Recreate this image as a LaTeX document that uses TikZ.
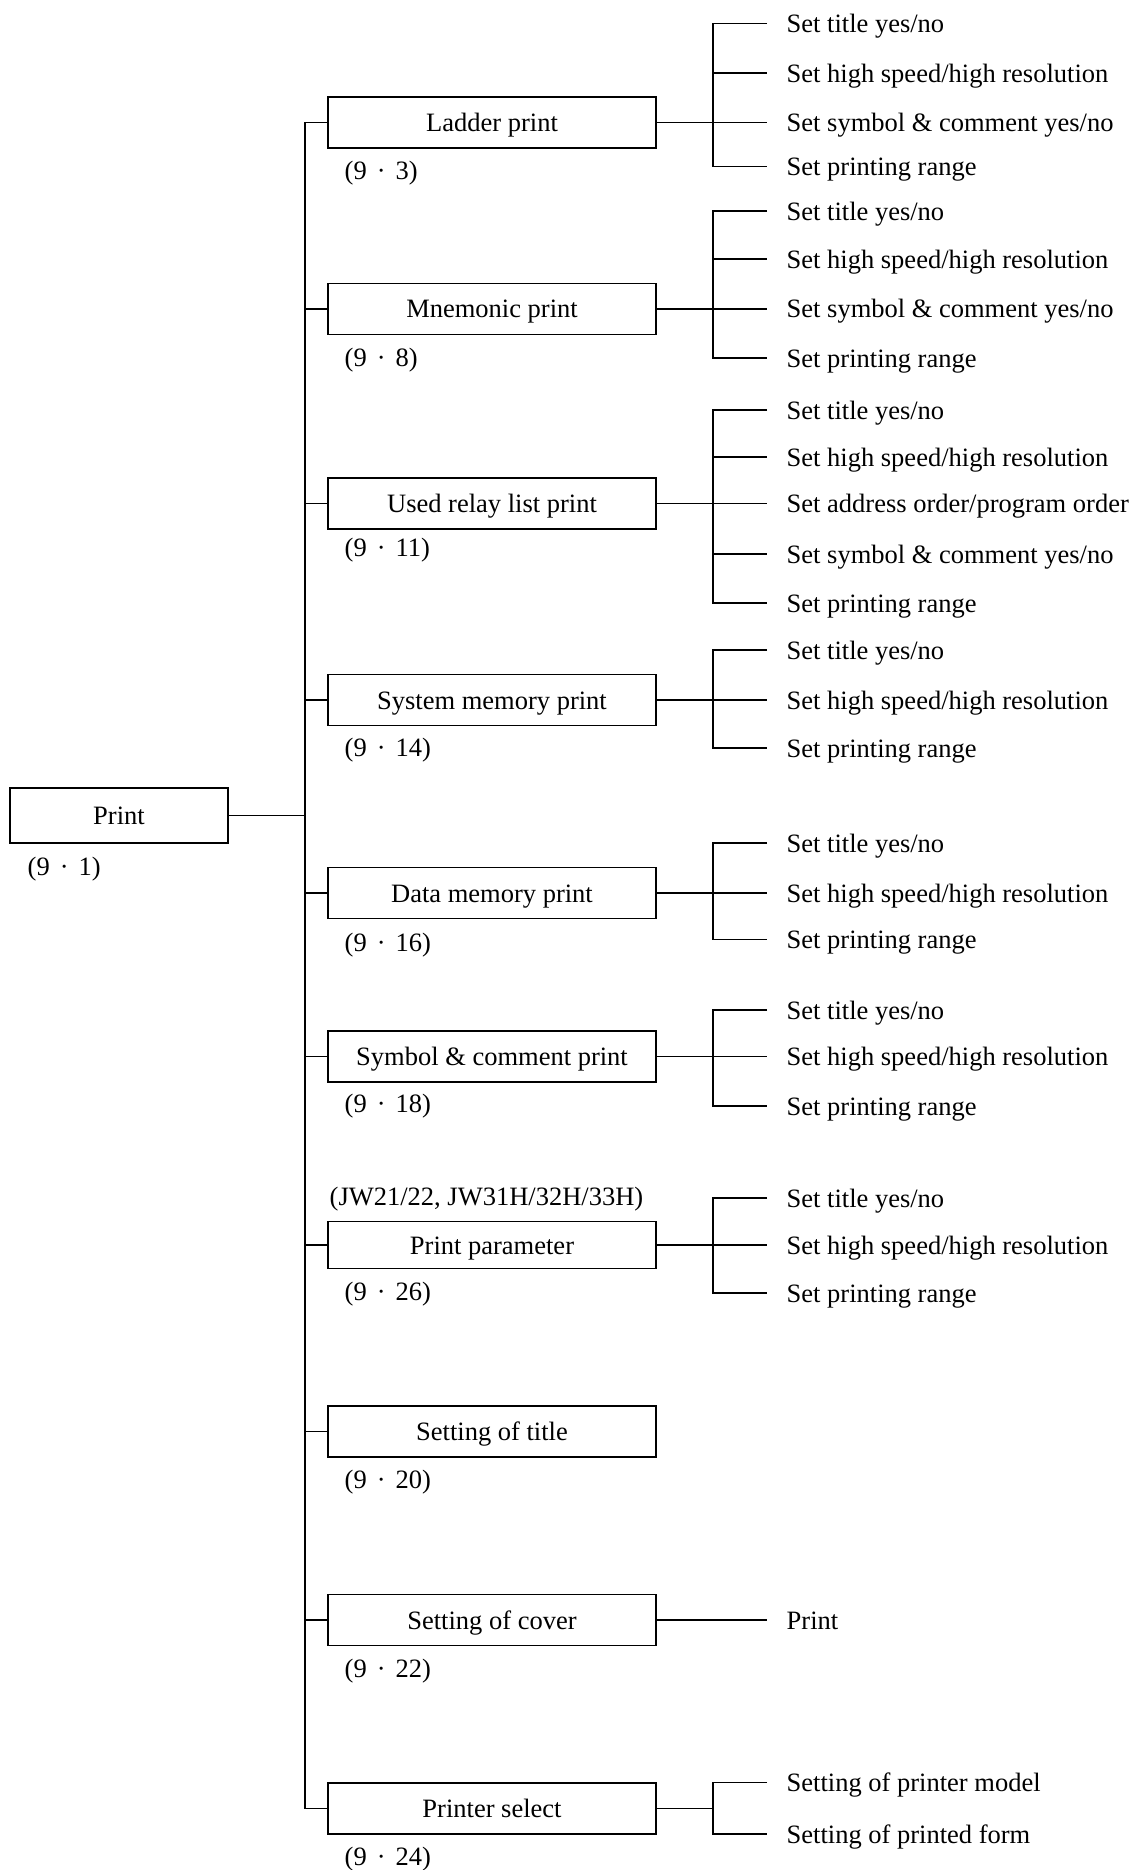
\documentclass[tikz,border=0pt]{standalone}
\usepackage{fontspec}
\setmainfont{Liberation Serif}
\newcommand\diagfont{\fontsize{13.25}{16}\selectfont}
% section reference such as (9 . 3)
\newcommand\pnum[2]{(#1\hspace{5pt}·\hspace{5pt}#2)}
\begin{document}
\begin{tikzpicture}[x=0.5pt,y=-0.5pt,line width=0.7pt,
  every node/.style={font=\diagfont},
  box/.style={draw,minimum width=164pt,minimum height=25.5pt,inner sep=0pt,
    text height=9pt,text depth=0pt},
  leaf/.style={anchor=west,inner xsep=9.5pt,inner ysep=0pt,
    text height=9pt,text depth=0pt},
  refno/.style={anchor=base west,inner sep=0pt}]
\useasboundingbox (0,0) rectangle (1135,1870);

\coordinate (trunk) at (305,0);
\coordinate (fork) at (713,0);

% root
\node[box,minimum width=109pt,minimum height=27.5pt] (root) at (119,815.5) {Print};
\node[refno] (rootref) at (27,875) {\pnum{9}{1}};

% first level
\node[box] (ladder)  at (492,122.3)  {Ladder print};
\node[box] (mnem)    at (492,308.8)  {Mnemonic print};
\node[box] (relay)   at (492,503.5)  {Used relay list print};
\node[box] (sysmem)  at (492,700)    {System memory print};
\node[box] (datamem) at (492,893)    {Data memory print};
\node[box] (symcom)  at (492,1056.5) {Symbol \& comment print};
\node[box,minimum height=23.5pt] (param) at (492,1245) {Print parameter};
\node[box] (title)   at (492,1431.5) {Setting of title};
\node[box] (cover)   at (492,1620)   {Setting of cover};
\node[box] (prnsel)  at (492,1808.3) {Printer select};

\node[refno] (ladderref)  at (344,179)  {\pnum{9}{3}};
\node[refno] (mnemref)    at (344,366)  {\pnum{9}{8}};
\node[refno] (relayref)   at (344,556)  {\pnum{9}{11}};
\node[refno] (sysmemref)  at (344,756)  {\pnum{9}{14}};
\node[refno] (datamemref) at (344,951)  {\pnum{9}{16}};
\node[refno] (symcomref)  at (344,1112) {\pnum{9}{18}};
\node[refno] (paramref)   at (344,1300) {\pnum{9}{26}};
\node[refno] (titleref)   at (344,1488) {\pnum{9}{20}};
\node[refno] (coverref)   at (344,1677) {\pnum{9}{22}};
\node[refno] (prnselref)  at (344,1865) {\pnum{9}{24}};
\node[refno] (paramnote)  at (329,1205) {(JW21/22, JW31H/32H/33H)};

% trunk and stubs
\draw (root.east) -- (root.east -| trunk);
\draw (ladder.west) -- (ladder.west -| trunk) -- (prnsel.west -| trunk) -- (prnsel.west);
\foreach \n in {mnem,relay,sysmem,datamem,symcom,param,title,cover}
  \draw (\n.west) -- (\n.west -| trunk);

% leaves: ladder print
\node[leaf] (la1) at (767,23.5)  {Set title yes/no};
\node[leaf] (la2) at (767,73)    {Set high speed/high resolution};
\node[leaf] (la3) at (767,122.3) {Set symbol \& comment yes/no};
\node[leaf] (la4) at (767,166.5) {Set printing range};
% mnemonic print
\node[leaf] (mn1) at (767,211)   {Set title yes/no};
\node[leaf] (mn2) at (767,259)   {Set high speed/high resolution};
\node[leaf] (mn3) at (767,308.8) {Set symbol \& comment yes/no};
\node[leaf] (mn4) at (767,358)   {Set printing range};
% used relay list print
\node[leaf] (re1) at (767,410)   {Set title yes/no};
\node[leaf] (re2) at (767,457)   {Set high speed/high resolution};
\node[leaf] (re3) at (767,503.5) {Set address order/program order};
\node[leaf] (re4) at (767,554)   {Set symbol \& comment yes/no};
\node[leaf] (re5) at (767,603)   {Set printing range};
% system memory print
\node[leaf] (sy1) at (767,650)   {Set title yes/no};
\node[leaf] (sy2) at (767,700)   {Set high speed/high resolution};
\node[leaf] (sy3) at (767,748)   {Set printing range};
% data memory print
\node[leaf] (da1) at (767,843)   {Set title yes/no};
\node[leaf] (da2) at (767,893)   {Set high speed/high resolution};
\node[leaf] (da3) at (767,939.5) {Set printing range};
% symbol & comment print
\node[leaf] (sc1) at (767,1010)   {Set title yes/no};
\node[leaf] (sc2) at (767,1056.5) {Set high speed/high resolution};
\node[leaf] (sc3) at (767,1106)   {Set printing range};
% print parameter
\node[leaf] (pa1) at (767,1198) {Set title yes/no};
\node[leaf] (pa2) at (767,1245) {Set high speed/high resolution};
\node[leaf] (pa3) at (767,1293) {Set printing range};
% setting of cover
\node[leaf] (co1) at (767,1620) {Print};
% printer select
\node[leaf] (ps1) at (767,1782.5) {Setting of printer model};
\node[leaf] (ps2) at (767,1834)   {Setting of printed form};

% brackets
\draw (ladder.east) -- (ladder.east -| fork);
\draw (la1.west) -- (la1.west -| fork) -- (la4.west -| fork) -- (la4.west);
\foreach \n in {la2,la3} \draw (\n.west -| fork) -- (\n.west);

\draw (mnem.east) -- (mnem.east -| fork);
\draw (mn1.west) -- (mn1.west -| fork) -- (mn4.west -| fork) -- (mn4.west);
\foreach \n in {mn2,mn3} \draw (\n.west -| fork) -- (\n.west);

\draw (relay.east) -- (relay.east -| fork);
\draw (re1.west) -- (re1.west -| fork) -- (re5.west -| fork) -- (re5.west);
\foreach \n in {re2,re3,re4} \draw (\n.west -| fork) -- (\n.west);

\draw (sysmem.east) -- (sysmem.east -| fork);
\draw (sy1.west) -- (sy1.west -| fork) -- (sy3.west -| fork) -- (sy3.west);
\draw (sy2.west -| fork) -- (sy2.west);

\draw (datamem.east) -- (datamem.east -| fork);
\draw (da1.west) -- (da1.west -| fork) -- (da3.west -| fork) -- (da3.west);
\draw (da2.west -| fork) -- (da2.west);

\draw (symcom.east) -- (symcom.east -| fork);
\draw (sc1.west) -- (sc1.west -| fork) -- (sc3.west -| fork) -- (sc3.west);
\draw (sc2.west -| fork) -- (sc2.west);

\draw (param.east) -- (param.east -| fork);
\draw (pa1.west) -- (pa1.west -| fork) -- (pa3.west -| fork) -- (pa3.west);
\draw (pa2.west -| fork) -- (pa2.west);

\draw (cover.east) -- (co1.west);

\draw (prnsel.east) -- (prnsel.east -| fork);
\draw (ps1.west) -- (ps1.west -| fork) -- (ps2.west -| fork) -- (ps2.west);
\end{tikzpicture}
\end{document}
